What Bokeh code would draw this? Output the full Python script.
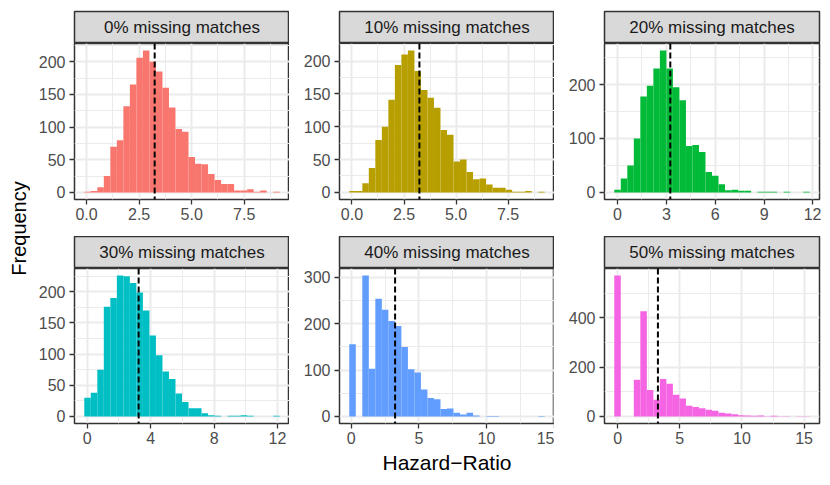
from bokeh.plotting import figure
from bokeh.models import Range1d, FixedTicker, NumeralTickFormatter, Label, Span
from bokeh.layouts import row, column
from bokeh.embed import file_html
from bokeh.resources import INLINE

FONT = "Liberation Sans"

# ---------------- data ----------------
panel_labels = ["0% missing matches", "10% missing matches", "20% missing matches",
                "30% missing matches", "40% missing matches", "50% missing matches"]
colors = ["#F8766D", "#B79F00", "#00BA38", "#00BFC4", "#619CFF", "#F564E3"]
true_hr = 3.24

bin_starts = [-0.11, -0.13, -0.20, -0.19, -0.15, -0.27]
bin_widths = [0.310, 0.313, 0.400, 0.411, 0.482, 0.524]

counts_0 = [1, 2, 8, 25, 70, 80, 132, 165, 206, 217, 200, 185, 160, 130, 97,
            93, 54, 44, 43, 28, 19, 13, 13, 3, 3, 5, 1, 3, 0, 1]
counts_10 = [2, 2, 14, 37, 80, 100, 141, 194, 210, 216, 185, 156, 144, 129, 95,
             88, 47, 50, 31, 20, 21, 12, 7, 7, 4, 1, 1, 2, 0, 1]
counts_20 = [5, 26, 50, 100, 178, 198, 230, 263, 230, 195, 171, 86, 88, 75, 38,
             31, 15, 4, 5, 3, 3, 0, 1, 1, 1, 0, 1, 0, 0, 1]
counts_30 = [30, 38, 75, 176, 190, 226, 225, 214, 199, 170, 130, 98, 72, 60, 37,
             23, 13, 13, 5, 2, 1, 0, 1, 1, 2, 1, 0, 0, 0, 1]
counts_40 = [156, 0, 304, 103, 254, 230, 206, 195, 150, 102, 95, 58, 40, 37, 16,
             17, 8, 4, 8, 2, 0, 1, 1, 0, 0, 0, 0, 0, 0, 1]
counts_50 = [571, 0, 0, 149, 426, 107, 68, 152, 133, 88, 73, 43, 38, 33, 27,
             23, 15, 12, 9, 5, 4, 3, 4, 1, 3, 1, 1, 0, 1, 1]
counts = [counts_0, counts_10, counts_20, counts_30, counts_40, counts_50]

x_ticks = [[0, 2.5, 5, 7.5], [0, 2.5, 5, 7.5], [0, 3, 6, 9, 12],
           [0, 4, 8, 12], [0, 5, 10, 15], [0, 5, 10, 15]]
x_tick_decimal = [True, True, False, False, False, False]
y_ticks = [[0, 50, 100, 150, 200], [0, 50, 100, 150, 200], [0, 100, 200],
           [0, 50, 100, 150, 200], [0, 100, 200, 300], [0, 200, 400]]

x_title = "Hazard\u2212Ratio"
y_title = "Frequency"

# ---------------- styling ----------------
FRAME_W = 215
STRIP_H = 32
GRID_MAJOR = "#EBEBEB"
BORDER = "#333333"
TICK_TXT = "#4D4D4D"


def minor_of(ticks, lo, hi):
    step = ticks[1] - ticks[0]
    ext = [ticks[0] - step] + list(ticks) + [ticks[-1] + step]
    mids = [(a + b) / 2 for a, b in zip(ext[:-1], ext[1:])]
    return [m for m in mids if lo <= m <= hi]


def make_strip(label, lb, rb, tb):
    s = figure(frame_width=FRAME_W, frame_height=STRIP_H, x_range=Range1d(0, 1), y_range=Range1d(0, 1),
               x_axis_type=None, y_axis_type=None, min_border_left=lb, min_border_right=rb,
               min_border_top=tb, min_border_bottom=0, toolbar_location=None,
               output_backend="svg", title=None)
    s.background_fill_color = "#D9D9D9"
    s.border_fill_color = "white"
    s.outline_line_color = BORDER
    s.outline_line_width = 1.5
    s.add_layout(Label(x=0.5, y=0.5, text=label, text_align="center", text_baseline="middle",
                       text_font_size="17px", text_color="#1A1A1A", text_font=FONT))
    return s


def make_panel(i, lb, rb, fh, bb, xlabel=None):
    c = counts[i]
    w = bin_widths[i]
    s0 = bin_starts[i]
    lefts = [s0 + k * w for k in range(len(c))]
    rights = [l + w for l in lefts]
    lo, hi = lefts[0], rights[-1]
    span = hi - lo
    xr = Range1d(lo - 0.05 * span, hi + 0.05 * span)
    ymax = max(c)
    yr = Range1d(-0.05 * ymax, 1.05 * ymax)
    p = figure(frame_width=FRAME_W, frame_height=fh, x_range=xr, y_range=yr,
               min_border_left=lb, min_border_right=rb, min_border_top=0, min_border_bottom=bb,
               toolbar_location=None, output_backend="svg", title=None)
    p.background_fill_color = "white"
    p.border_fill_color = "white"
    p.outline_line_color = BORDER
    p.outline_line_width = 1.5

    p.quad(left=lefts, right=rights, bottom=[0] * len(c), top=c,
           fill_color=colors[i], line_color=None)
    p.add_layout(Span(location=true_hr, dimension="height", line_color="black",
                      line_width=2, line_dash="6 3"))

    xt = x_ticks[i]
    yt = y_ticks[i]
    p.xaxis.ticker = FixedTicker(ticks=xt, minor_ticks=minor_of(xt, xr.start, xr.end))
    p.yaxis.ticker = FixedTicker(ticks=yt, minor_ticks=minor_of(yt, yr.start, yr.end))
    if x_tick_decimal[i]:
        p.xaxis.formatter = NumeralTickFormatter(format="0.0")

    for ax in (p.xaxis[0], p.yaxis[0]):
        ax.axis_line_color = None
        ax.major_tick_line_color = BORDER
        ax.major_tick_line_width = 1.3
        ax.major_tick_out = 5
        ax.major_tick_in = 0
        ax.minor_tick_out = 0
        ax.minor_tick_in = 0
        ax.major_label_text_font = FONT
        ax.major_label_text_font_size = "16px"
        ax.major_label_text_color = TICK_TXT
    p.xaxis.major_label_standoff = 3
    p.yaxis.major_label_standoff = 4

    for g in (p.xgrid[0], p.ygrid[0]):
        g.grid_line_color = GRID_MAJOR
        g.grid_line_width = 2
        g.minor_grid_line_color = GRID_MAJOR
        g.minor_grid_line_width = 1

    if xlabel:
        p.xaxis.axis_label = xlabel
        p.xaxis.axis_label_text_font = FONT
        p.xaxis.axis_label_text_font_size = "21px"
        p.xaxis.axis_label_text_font_style = "normal"
        p.xaxis.axis_label_text_color = "black"
        p.xaxis.axis_label_standoff = 4
    return p


LEFT_BORDERS = [44, 50, 50]
RIGHT_BORDERS = [0, 0, 2]
TOP_PAD = 11
TOP_FH, BOT_FH = 156, 155
TOP_BB, BOT_BB = 37, 54
LEFT_W = 30

cols = []
for j in range(3):
    lb, rb = LEFT_BORDERS[j], RIGHT_BORDERS[j]
    st = make_strip(panel_labels[j], lb, rb, TOP_PAD)
    pt = make_panel(j, lb, rb, TOP_FH, TOP_BB)
    sb = make_strip(panel_labels[j + 3], lb, rb, 0)
    pb = make_panel(j + 3, lb, rb, BOT_FH, BOT_BB, xlabel=x_title if j == 1 else None)
    cols.append(column(st, pt, sb, pb))

total_h = TOP_PAD + STRIP_H + TOP_FH + TOP_BB + STRIP_H + BOT_FH + BOT_BB
fq = figure(frame_width=LEFT_W, frame_height=total_h, x_range=Range1d(0, LEFT_W), y_range=Range1d(0, total_h),
            x_axis_type=None, y_axis_type=None, min_border=0, toolbar_location=None,
            output_backend="svg", title=None)
fq.outline_line_color = None
fq.add_layout(Label(x=18.5, y=total_h - 228, text=y_title, angle=1.5707963267948966,
                    text_align="center", text_baseline="middle", text_font=FONT,
                    text_font_size="20px", text_color="black"))

layout = row(fq, *cols)
open("out.html", "w").write(file_html(layout, INLINE))
